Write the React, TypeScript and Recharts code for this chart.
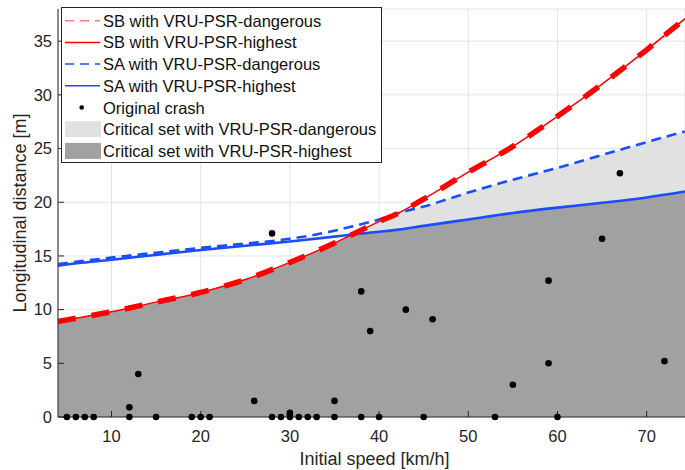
import React from "react";
import { ComposedChart, Area, Line, Scatter, XAxis, YAxis, CartesianGrid, Legend } from "recharts";

// speed grid [km/h] and the four boundary curves [m]
const speed = [4, 5, 10, 15, 20, 25, 30, 35, 37, 40, 42.2, 45, 50, 55, 60, 65, 70, 74.3];
const sbDangerous = [8.9, 9.05, 9.8, 10.7, 11.6, 12.8, 14.4, 16.2, 17.0, 18.2, 19.0, 20.3, 22.8, 25.2, 28.0, 31.0, 34.2, 37.1];
const sbHighest = [8.9, 9.05, 9.8, 10.7, 11.6, 12.8, 14.4, 16.2, 17.0, 18.2, 19.0, 20.3, 22.8, 25.2, 28.0, 31.0, 34.2, 37.1];
const saDangerous = [14.25, 14.35, 14.85, 15.3, 15.75, 16.15, 16.6, 17.35, 17.75, 18.4, 19.0, 19.6, 20.9, 22.1, 23.2, 24.4, 25.6, 26.6];
const saHighest = [14.1, 14.2, 14.65, 15.1, 15.55, 15.95, 16.35, 16.8, 17.0, 17.25, 17.45, 17.8, 18.4, 19.0, 19.5, 19.95, 20.45, 21.0];

// original crashes
const crashSpeed = [5, 6, 7, 8, 12, 12, 13, 15, 19, 20, 21, 26, 28, 28, 29, 30, 30, 30, 31, 32, 33, 35, 35, 38, 38, 39, 40, 43, 45, 46, 53, 55, 59, 59, 60, 65, 67, 72];
const crashDistance = [0, 0, 0, 0, 0, 0.9, 4.0, 0, 0, 0, 0, 1.5, 0, 17.1, 0, 0, 0.2, 0.4, 0, 0, 0, 0, 1.5, 0, 11.7, 8.0, 0, 10.0, 0, 9.1, 0, 3.0, 5.0, 12.7, 0, 16.6, 22.7, 5.2];

const xTicks = [10, 20, 30, 40, 50, 60, 70];
const yTicks = [0, 5, 10, 15, 20, 25, 30, 35];

const FONT = '"Liberation Sans", Arial, Helvetica, sans-serif';
const RED = "#ff0000";
const BLUE = "#1a4dff";
const AXIS = "#262626";

const curves = speed.map((x, i) => ({
  x,
  sbDangerous: sbDangerous[i],
  sbHighest: sbHighest[i],
  saDangerous: saDangerous[i],
  saHighest: saHighest[i],
  critDangerous: Math.min(sbDangerous[i], saDangerous[i]),
  critHighest: Math.min(sbHighest[i], saHighest[i]),
}));

const crashes = crashSpeed.map((x, i) => ({ x, y: crashDistance[i] }));

const legendItems = [
  { label: "SB with VRU-PSR-dangerous", kind: "line", color: "#ff7a7a", dash: "9 6" },
  { label: "SB with VRU-PSR-highest", kind: "line", color: RED, dash: "" },
  { label: "SA with VRU-PSR-dangerous", kind: "line", color: BLUE, dash: "9 6" },
  { label: "SA with VRU-PSR-highest", kind: "line", color: BLUE, dash: "" },
  { label: "Original crash", kind: "dot", color: "#000", dash: "" },
  { label: "Critical set with VRU-PSR-dangerous", kind: "patch", color: "#e1e1e1", dash: "" },
  { label: "Critical set with VRU-PSR-highest", kind: "patch", color: "#a1a1a1", dash: "" },
];

const LegendBox = () => (
  <svg width={321} height={156} style={{ display: "block" }}>
    <rect x={0.5} y={0.5} width={320} height={155} fill="#fff" stroke={AXIS} strokeWidth={1} />
    {legendItems.map((item, i) => {
      const cy = 13.7 + i * 21.7;
      return (
        <g key={item.label}>
          {item.kind === "line" && (
            <line x1={4} x2={39} y1={cy} y2={cy} stroke={item.color} strokeWidth={1.5} strokeDasharray={item.dash || undefined} />
          )}
          {item.kind === "dot" && <circle cx={20.7} cy={cy} r={2.3} fill={item.color} />}
          {item.kind === "patch" && <rect x={4} y={cy - 8} width={36} height={16} fill={item.color} />}
          <text x={42} y={cy} dominantBaseline="central" fontSize={16.5} fontFamily={FONT} fill="#111">
            {item.label}
          </text>
        </g>
      );
    })}
  </svg>
);

const XTitle = ({ viewBox }: any) => (
  <text
    x={viewBox.x + viewBox.width / 2 + 3}
    y={viewBox.y + viewBox.height - 5}
    textAnchor="middle"
    fontSize={18}
    fontFamily={FONT}
    fill={AXIS}
  >
    Initial speed [km/h]
  </text>
);

const YTitle = ({ viewBox }: any) => {
  const x = viewBox.x + 26;
  const y = viewBox.y + viewBox.height / 2;
  return (
    <text x={x} y={y} transform={`rotate(-90, ${x}, ${y})`} textAnchor="middle" fontSize={18} fontFamily={FONT} fill={AXIS}>
      Longitudinal distance [m]
    </text>
  );
};

const Dot = (props: any) => <circle cx={props.cx} cy={props.cy} r={3.3} fill="#000" />;

export default function App() {
  return (
    <div style={{ position: "absolute", left: 0, top: 0, background: "#fff" }}>
      <ComposedChart width={685} height={470} data={curves} margin={{ top: 9, right: 0, bottom: 0, left: 0 }}>
        <CartesianGrid stroke="#e4e4e4" />
        <XAxis
          type="number"
          dataKey="x"
          domain={[4, 74.3]}
          ticks={xTicks}
          interval={0}
          height={53}
          tickSize={-6}
          tickMargin={19}
          axisLine={{ stroke: AXIS }}
          tickLine={{ stroke: AXIS }}
          tick={{ fontSize: 16.5, fill: AXIS, fontFamily: FONT }}
          label={<XTitle />}
        />
        <YAxis
          type="number"
          domain={[0, 38]}
          ticks={yTicks}
          interval={0}
          width={58}
          tickSize={-6}
          tickMargin={12}
          axisLine={{ stroke: AXIS }}
          tickLine={{ stroke: AXIS }}
          tick={{ fontSize: 16.5, fill: AXIS, fontFamily: FONT }}
          label={<YTitle />}
        />
        <Area type="monotone" dataKey="critDangerous" stroke="none" fill="#e1e1e1" fillOpacity={1} isAnimationActive={false} />
        <Area type="monotone" dataKey="critHighest" stroke="none" fill="#a1a1a1" fillOpacity={1} isAnimationActive={false} />
        <Line type="monotone" dataKey="saDangerous" stroke={BLUE} strokeWidth={2.6} strokeDasharray="10 6" dot={false} activeDot={false} isAnimationActive={false} />
        <Line type="monotone" dataKey="saHighest" stroke={BLUE} strokeWidth={2.6} dot={false} activeDot={false} isAnimationActive={false} />
        <Line type="monotone" dataKey="sbHighest" stroke={RED} strokeWidth={1.5} dot={false} activeDot={false} isAnimationActive={false} />
        <Line type="monotone" dataKey="sbDangerous" stroke={RED} strokeWidth={5.5} strokeDasharray="18 16" dot={false} activeDot={false} isAnimationActive={false} />
        <Scatter data={crashes} dataKey="y" shape={<Dot />} isAnimationActive={false} />
        <Legend
          layout="horizontal"
          verticalAlign="middle"
          align="center"
          wrapperStyle={{ left: 61, top: 7, width: 321, height: 156 }}
          content={() => <LegendBox />}
        />
      </ComposedChart>
    </div>
  );
}
